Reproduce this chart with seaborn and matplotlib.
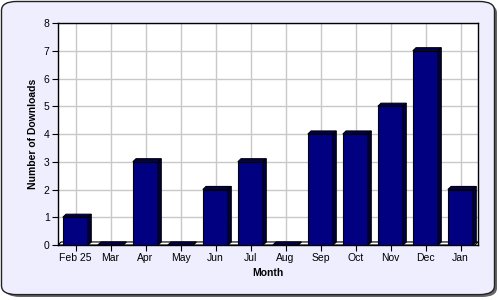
import matplotlib
matplotlib.use("Agg")
import matplotlib.pyplot as plt
import seaborn as sns
import pandas as pd
from matplotlib.patches import FancyBboxPatch, Polygon

months = ["Feb 25", "Mar", "Apr", "May", "Jun", "Jul", "Aug", "Sep", "Oct", "Nov", "Dec", "Jan"]
downloads = [1, 0, 3, 0, 2, 3, 0, 4, 4, 5, 7, 2]
y_ticks = [0, 1, 2, 3, 4, 5, 6, 7, 8]

sns.set_theme(style="white")
plt.rcParams["font.family"] = ["Liberation Sans", "DejaVu Sans"]

df = pd.DataFrame({"Month": months, "Downloads": downloads})

fig = plt.figure(figsize=(5, 3), dpi=100)
fig.patch.set_facecolor("white")

# rounded frame with shadow
shadow = FancyBboxPatch((0.010, 0.010), 0.984, 0.977, boxstyle="round,pad=0,rounding_size=0.03",
                        transform=fig.transFigure, facecolor="#666666", edgecolor="none", zorder=-2)
frame = FancyBboxPatch((0.003, 0.018), 0.986, 0.977, boxstyle="round,pad=0,rounding_size=0.03",
                       transform=fig.transFigure, facecolor="#EEEEFF", edgecolor="#222222",
                       linewidth=1.0, zorder=-1)
fig.patches.extend([shadow, frame])

ax = fig.add_axes([0.116, 0.1833, 0.84, 0.74])
ax.set_zorder(1)
ax.set_facecolor("white")
sns.barplot(data=df, x="Month", y="Downloads", ax=ax, color="#000080", width=0.72,
            edgecolor="black", linewidth=0.8, saturation=1, zorder=3)

ax.set_xlim(-0.5, len(months) - 0.5)
ax.set_ylim(0, 8)
ax.set_yticks(y_ticks)

dx = 0.09
dy = 0.11

# floor
floor = Polygon([(-0.5, 0), (-0.5 + dx, dy), (len(months) - 0.5, dy), (len(months) - 0.5 - dx, 0)],
                closed=True, facecolor="white", edgecolor="black", linewidth=0.8, zorder=2)
ax.add_patch(floor)

for p in list(ax.patches):
    if p is floor:
        continue
    x0 = p.get_x()
    w = p.get_width()
    h = p.get_height()
    top = Polygon([(x0, h), (x0 + dx, h + dy), (x0 + w + dx, h + dy), (x0 + w, h)], closed=True,
                  facecolor="#00005A", edgecolor="black", linewidth=0.8, zorder=3)
    side = Polygon([(x0 + w, 0), (x0 + w + dx, dy), (x0 + w + dx, h + dy), (x0 + w, h)], closed=True,
                   facecolor="#00004A", edgecolor="black", linewidth=0.8, zorder=3)
    ax.add_patch(top)
    ax.add_patch(side)

ax.grid(True, color="#C8C8C8", linewidth=1.0, zorder=0)
ax.set_axisbelow(True)
for s in ax.spines.values():
    s.set_color("black")
    s.set_linewidth(1.0)

ax.tick_params(axis="both", which="both", length=4, width=0.8, color="black",
               labelsize=7.5, labelcolor="black", pad=2, bottom=True, left=True)
ax.set_xlabel("Month", fontsize=7.5, fontweight="bold", color="black", labelpad=3)
ax.set_ylabel("Number of Downloads", fontsize=7.5, fontweight="bold", color="black", labelpad=4)

fig.savefig("out.png", dpi=100, facecolor=fig.get_facecolor())
